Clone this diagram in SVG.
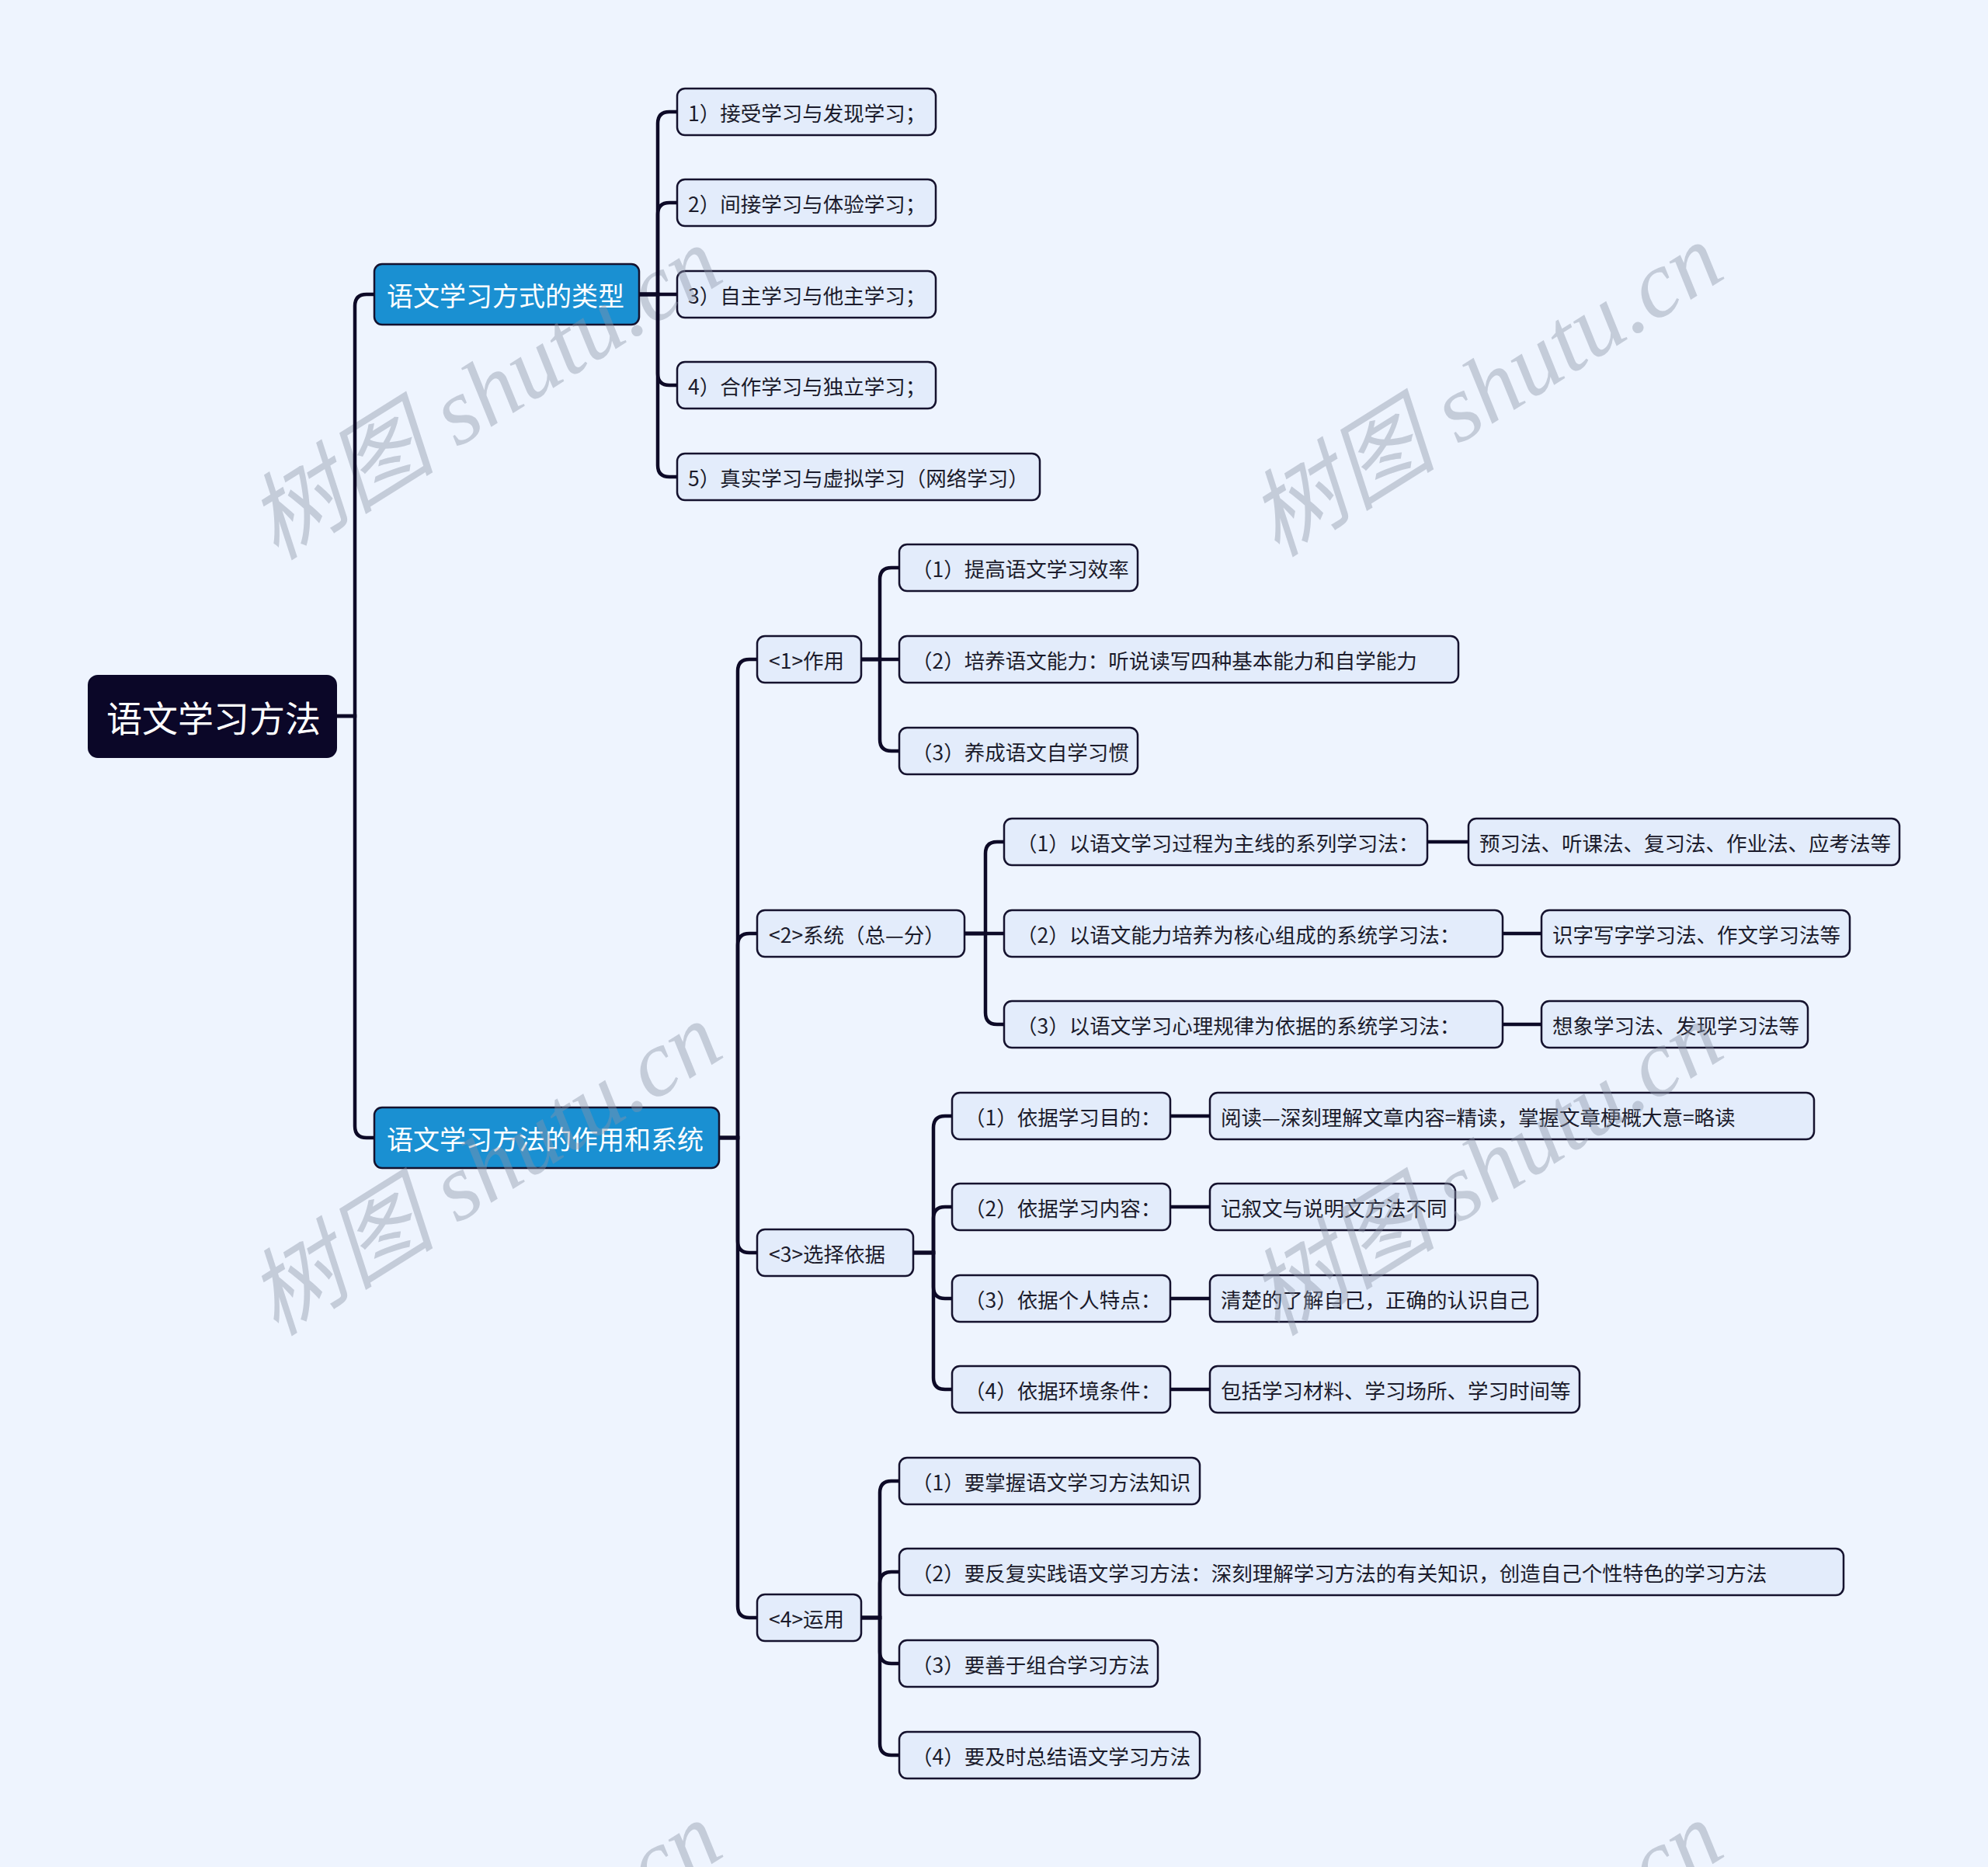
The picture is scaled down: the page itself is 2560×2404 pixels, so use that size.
<svg xmlns="http://www.w3.org/2000/svg" width="2560" height="2404" viewBox="0 0 2560 2404">
<style>
.bg{fill:#eef4fe}
.leaf rect{fill:#e3ecfb;stroke:#15122e;stroke-width:2.5}
.leaf text{font-family:"Noto Sans CJK SC","Noto Sans",sans-serif;font-size:26.5px;fill:#1b1b2b;dominant-baseline:central}
.l1 rect{fill:#1a90d2;stroke:#15122e;stroke-width:2.5}
.l1 text{font-family:"Noto Sans CJK SC","Noto Sans",sans-serif;font-size:34px;fill:#ffffff;dominant-baseline:central}
.root rect{fill:#0b0728;stroke:#0b0728;stroke-width:2}
.root text{font-family:"Noto Sans CJK SC","Noto Sans",sans-serif;font-size:46px;fill:#ffffff;dominant-baseline:central}
.conn path{fill:none;stroke:#0d0a27;stroke-width:4.5}
.wm text{font-family:"Liberation Serif","Noto Sans CJK SC",serif;font-style:italic;font-size:122px;fill:#8a93a8;fill-opacity:0.42;text-anchor:middle;dominant-baseline:central}
</style>
<rect class="bg" x="0" y="0" width="2560" height="2404"/>

<g id="root" class="root"><rect x="114" y="870" width="319" height="105" rx="12"/><text x="137" y="922">语文学习方法</text></g>

<g id="n-a" class="l1"><rect x="482" y="340" width="341" height="78" rx="10"/><text x="498" y="379">语文学习方式的类型</text></g>
<g id="n-b" class="l1"><rect x="482" y="1426" width="444" height="78" rx="10"/><text x="498" y="1465">语文学习方法的作用和系统</text></g>

<g id="a1" class="leaf"><rect x="872" y="114" width="333" height="60" rx="10"/><text x="886" y="144">1）接受学习与发现学习；</text></g>
<g id="a2" class="leaf"><rect x="872" y="231" width="333" height="60" rx="10"/><text x="886" y="261">2）间接学习与体验学习；</text></g>
<g id="a3" class="leaf"><rect x="872" y="349" width="333" height="60" rx="10"/><text x="886" y="379">3）自主学习与他主学习；</text></g>
<g id="a4" class="leaf"><rect x="872" y="466" width="333" height="60" rx="10"/><text x="886" y="496">4）合作学习与独立学习；</text></g>
<g id="a5" class="leaf"><rect x="872" y="584" width="467" height="60" rx="10"/><text x="886" y="614">5）真实学习与虚拟学习（网络学习）</text></g>

<g id="b1" class="leaf"><rect x="975" y="819" width="134" height="60" rx="10"/><text x="990" y="849">&lt;1&gt;作用</text></g>
<g id="b2" class="leaf"><rect x="975" y="1172" width="267" height="60" rx="10"/><text x="990" y="1202">&lt;2&gt;系统（总—分）</text></g>
<g id="b3" class="leaf"><rect x="975" y="1583" width="201" height="60" rx="10"/><text x="990" y="1613">&lt;3&gt;选择依据</text></g>
<g id="b4" class="leaf"><rect x="975" y="2053" width="134" height="60" rx="10"/><text x="990" y="2083">&lt;4&gt;运用</text></g>

<g id="b1-1" class="leaf"><rect x="1158" y="701" width="307" height="60" rx="10"/><text x="1174" y="731">（1）提高语文学习效率</text></g>
<g id="b1-2" class="leaf"><rect x="1158" y="819" width="720" height="60" rx="10"/><text x="1174" y="849">（2）培养语文能力：听说读写四种基本能力和自学能力</text></g>
<g id="b1-3" class="leaf"><rect x="1158" y="937" width="307" height="60" rx="10"/><text x="1174" y="967">（3）养成语文自学习惯</text></g>

<g id="b2-1" class="leaf"><rect x="1293" y="1054" width="545" height="60" rx="10"/><text x="1309" y="1084">（1）以语文学习过程为主线的系列学习法：</text></g>
<g id="b2-2" class="leaf"><rect x="1293" y="1172" width="642" height="60" rx="10"/><text x="1309" y="1202">（2）以语文能力培养为核心组成的系统学习法：</text></g>
<g id="b2-3" class="leaf"><rect x="1293" y="1289" width="642" height="60" rx="10"/><text x="1309" y="1319">（3）以语文学习心理规律为依据的系统学习法：</text></g>
<g id="b2-1-1" class="leaf"><rect x="1891" y="1054" width="555" height="60" rx="10"/><text x="1905" y="1084">预习法、听课法、复习法、作业法、应考法等</text></g>
<g id="b2-2-1" class="leaf"><rect x="1985" y="1172" width="397" height="60" rx="10"/><text x="1999" y="1202">识字写字学习法、作文学习法等</text></g>
<g id="b2-3-1" class="leaf"><rect x="1985" y="1289" width="343" height="60" rx="10"/><text x="1999" y="1319">想象学习法、发现学习法等</text></g>

<g id="b3-1" class="leaf"><rect x="1226" y="1407" width="281" height="60" rx="10"/><text x="1242" y="1437">（1）依据学习目的：</text></g>
<g id="b3-2" class="leaf"><rect x="1226" y="1524" width="281" height="60" rx="10"/><text x="1242" y="1554">（2）依据学习内容：</text></g>
<g id="b3-3" class="leaf"><rect x="1226" y="1642" width="281" height="60" rx="10"/><text x="1242" y="1672">（3）依据个人特点：</text></g>
<g id="b3-4" class="leaf"><rect x="1226" y="1759" width="281" height="60" rx="10"/><text x="1242" y="1789">（4）依据环境条件：</text></g>
<g id="b3-1-1" class="leaf"><rect x="1558" y="1407" width="778" height="60" rx="10"/><text x="1572" y="1437">阅读—深刻理解文章内容=精读，掌握文章梗概大意=略读</text></g>
<g id="b3-2-1" class="leaf"><rect x="1558" y="1524" width="316" height="60" rx="10"/><text x="1572" y="1554">记叙文与说明文方法不同</text></g>
<g id="b3-3-1" class="leaf"><rect x="1558" y="1642" width="422" height="60" rx="10"/><text x="1572" y="1672">清楚的了解自己，正确的认识自己</text></g>
<g id="b3-4-1" class="leaf"><rect x="1558" y="1759" width="476" height="60" rx="10"/><text x="1572" y="1789">包括学习材料、学习场所、学习时间等</text></g>

<g id="b4-1" class="leaf"><rect x="1158" y="1877" width="387" height="60" rx="10"/><text x="1174" y="1907">（1）要掌握语文学习方法知识</text></g>
<g id="b4-2" class="leaf"><rect x="1158" y="1994" width="1216" height="60" rx="10"/><text x="1174" y="2024">（2）要反复实践语文学习方法：深刻理解学习方法的有关知识，创造自己个性特色的学习方法</text></g>
<g id="b4-3" class="leaf"><rect x="1158" y="2112" width="333" height="60" rx="10"/><text x="1174" y="2142">（3）要善于组合学习方法</text></g>
<g id="b4-4" class="leaf"><rect x="1158" y="2230" width="387" height="60" rx="10"/><text x="1174" y="2260">（4）要及时总结语文学习方法</text></g>

<g id="watermarks" class="wm">
<text transform="translate(624,506) rotate(-32)">树图 shutu.cn</text>
<text transform="translate(1913,502) rotate(-32)">树图 shutu.cn</text>
<text transform="translate(624,1505) rotate(-32)">树图 shutu.cn</text>
<text transform="translate(1913,1505) rotate(-32)">树图 shutu.cn</text>
<text transform="translate(624,2534) rotate(-32)">树图 shutu.cn</text>
<text transform="translate(1913,2534) rotate(-32)">树图 shutu.cn</text>
</g>

<g id="connectors" class="conn">
<path d="M433,922 H457 V394 Q457,379 472,379 H482"/>
<path d="M433,922 H457 V1450 Q457,1465 472,1465 H482"/>
<path d="M823,379 H847 V159 Q847,144 862,144 H872"/>
<path d="M823,379 H847 V276 Q847,261 862,261 H872"/>
<path d="M823,379 H872"/>
<path d="M823,379 H847 V481 Q847,496 862,496 H872"/>
<path d="M823,379 H847 V599 Q847,614 862,614 H872"/>
<path d="M926,1465 H950 V864 Q950,849 965,849 H975"/>
<path d="M926,1465 H950 V1217 Q950,1202 965,1202 H975"/>
<path d="M926,1465 H950 V1598 Q950,1613 965,1613 H975"/>
<path d="M926,1465 H950 V2068 Q950,2083 965,2083 H975"/>
<path d="M1109,849 H1133 V746 Q1133,731 1148,731 H1158"/>
<path d="M1109,849 H1158"/>
<path d="M1109,849 H1133 V952 Q1133,967 1148,967 H1158"/>
<path d="M1242,1202 H1269 V1099 Q1269,1084 1284,1084 H1293"/>
<path d="M1242,1202 H1293"/>
<path d="M1242,1202 H1269 V1304 Q1269,1319 1284,1319 H1293"/>
<path d="M1838,1084 H1891"/>
<path d="M1935,1202 H1985"/>
<path d="M1935,1319 H1985"/>
<path d="M1176,1613 H1202 V1452 Q1202,1437 1217,1437 H1226"/>
<path d="M1176,1613 H1202 V1569 Q1202,1554 1217,1554 H1226"/>
<path d="M1176,1613 H1202 V1657 Q1202,1672 1217,1672 H1226"/>
<path d="M1176,1613 H1202 V1774 Q1202,1789 1217,1789 H1226"/>
<path d="M1507,1437 H1558"/>
<path d="M1507,1554 H1558"/>
<path d="M1507,1672 H1558"/>
<path d="M1507,1789 H1558"/>
<path d="M1109,2083 H1133 V1922 Q1133,1907 1148,1907 H1158"/>
<path d="M1109,2083 H1133 V2039 Q1133,2024 1148,2024 H1158"/>
<path d="M1109,2083 H1133 V2127 Q1133,2142 1148,2142 H1158"/>
<path d="M1109,2083 H1133 V2245 Q1133,2260 1148,2260 H1158"/>
</g>
</svg>
